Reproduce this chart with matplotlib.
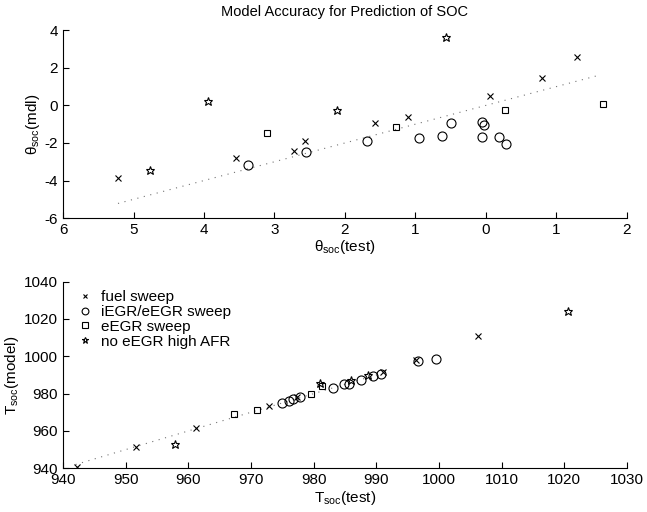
import matplotlib
matplotlib.use("Agg")
import matplotlib.pyplot as plt

plt.rcParams["font.family"] = ["Liberation Sans", "DejaVu Sans"]
plt.rcParams["mathtext.fontset"] = "custom"
plt.rcParams["mathtext.rm"] = "Liberation Sans"

# ---- top panel: theta_soc, test vs model ----
theta_fuel_x = [-5.22, -3.54, -2.73, -2.57, -1.58, -1.10, 0.06, 0.79, 1.29]
theta_fuel_y = [-3.89, -2.82, -2.44, -1.89, -0.96, -0.61, 0.51, 1.48, 2.58]
theta_iegr_x = [-3.38, -2.56, -1.69, -0.95, -0.62, -0.50, -0.06, -0.03, -0.06, 0.19, 0.29]
theta_iegr_y = [-3.18, -2.47, -1.90, -1.73, -1.62, -0.93, -0.88, -1.02, -1.68, -1.68, -2.03]
theta_eegr_x = [-3.11, -1.28, 0.27, 1.66]
theta_eegr_y = [-1.49, -1.14, -0.26, 0.05]
theta_afr_x = [-4.77, -3.94, -2.11, -0.57]
theta_afr_y = [-3.45, 0.22, -0.26, 3.64]
theta_fit = [-5.22, 1.62]
theta_xticks = [-6, -5, -4, -3, -2, -1, 0, 1, 2]
theta_xticklabels = ["6", "5", "4", "3", "2", "1", "0", "1", "2"]
theta_yticks = [-6, -4, -2, 0, 2, 4]

# ---- bottom panel: T_soc, test vs model ----
t_fuel_x = [942.3, 951.6, 961.3, 972.8, 977.3, 991.0, 996.4, 1006.3]
t_fuel_y = [940.9, 951.6, 961.4, 973.4, 978.0, 991.4, 997.8, 1010.9]
t_iegr_x = [975.0, 976.1, 976.7, 977.8, 983.1, 984.8, 985.7, 987.6, 989.4, 990.8, 996.6, 999.5]
t_iegr_y = [975.0, 976.2, 977.0, 978.0, 982.9, 985.0, 985.3, 987.3, 989.5, 990.4, 997.3, 998.6]
t_eegr_x = [967.3, 971.0, 979.6, 981.4]
t_eegr_y = [969.3, 971.4, 979.8, 984.0]
t_afr_x = [957.9, 981.0, 986.0, 988.6, 1020.6]
t_afr_y = [953.0, 985.9, 987.3, 990.0, 1024.5]
t_fit = [942.0, 990.0]
t_xticks = [940, 950, 960, 970, 980, 990, 1000, 1010, 1020, 1030]
t_yticks = [940, 960, 980, 1000, 1020, 1040]

labels = ["fuel sweep", "iEGR/eEGR sweep", "eEGR sweep", "no eEGR high AFR"]
FS = 11


def style(ax):
    for s in ("top", "right"):
        ax.spines[s].set_visible(False)
    ax.tick_params(direction="in", length=4, width=0.8, labelsize=FS)


def scatter_groups(ax, groups):
    kw = dict(ls="none", color="black", mfc="none", mew=0.8)
    ax.plot(*groups[0], marker="x", ms=4.5, label=labels[0], **kw)
    ax.plot(*groups[1], marker="o", ms=6.5, label=labels[1], **kw)
    ax.plot(*groups[2], marker="s", ms=5, label=labels[2], **kw)
    ax.plot(*groups[3], marker="*", ms=6.3, label=labels[3], **kw)


fig = plt.figure(figsize=(6.47, 5.12), dpi=100)
ax1 = fig.add_axes([0.0974, 0.574, 0.8716, 0.367])
ax2 = fig.add_axes([0.0974, 0.0854, 0.8716, 0.3646])

# top
ax1.plot(theta_fit, theta_fit, color="0.45", lw=0.8, ls=(0, (1, 5)))
scatter_groups(ax1, [(theta_fuel_x, theta_fuel_y), (theta_iegr_x, theta_iegr_y),
                     (theta_eegr_x, theta_eegr_y), (theta_afr_x, theta_afr_y)])
ax1.set_xlim(-6, 2)
ax1.set_ylim(-6, 4)
ax1.set_xticks(theta_xticks)
ax1.set_xticklabels(theta_xticklabels)
ax1.set_yticks(theta_yticks)
ax1.set_yticklabels([str(v) for v in theta_yticks])
style(ax1)
ax1.set_title("Model Accuracy for Prediction of SOC", fontsize=10.5, pad=10)
ax1.set_xlabel(r"$\mathregular{\theta_{soc}}$(test)", fontsize=FS, labelpad=1)
ax1.set_ylabel(r"$\mathregular{\theta_{soc}}$(mdl)", fontsize=FS, labelpad=2)

# bottom
ax2.plot(t_fit, t_fit, color="0.45", lw=0.8, ls=(0, (1, 5)))
scatter_groups(ax2, [(t_fuel_x, t_fuel_y), (t_iegr_x, t_iegr_y),
                     (t_eegr_x, t_eegr_y), (t_afr_x, t_afr_y)])
ax2.set_xlim(940, 1030)
ax2.set_ylim(940, 1040)
ax2.set_xticks(t_xticks)
ax2.set_yticks(t_yticks)
style(ax2)
ax2.set_xlabel(r"$\mathregular{T_{soc}}$(test)", fontsize=FS, labelpad=1)
ax2.set_ylabel(r"$\mathregular{T_{soc}}$(model)", fontsize=FS, labelpad=2)
ax2.legend(loc="upper left", bbox_to_anchor=(0.026, 0.955), frameon=False,
           fontsize=FS, handlelength=1.0, handletextpad=0.5, labelspacing=0.06,
           borderpad=0, borderaxespad=0, markerscale=0.75)

fig.savefig("out.png", dpi=100)
